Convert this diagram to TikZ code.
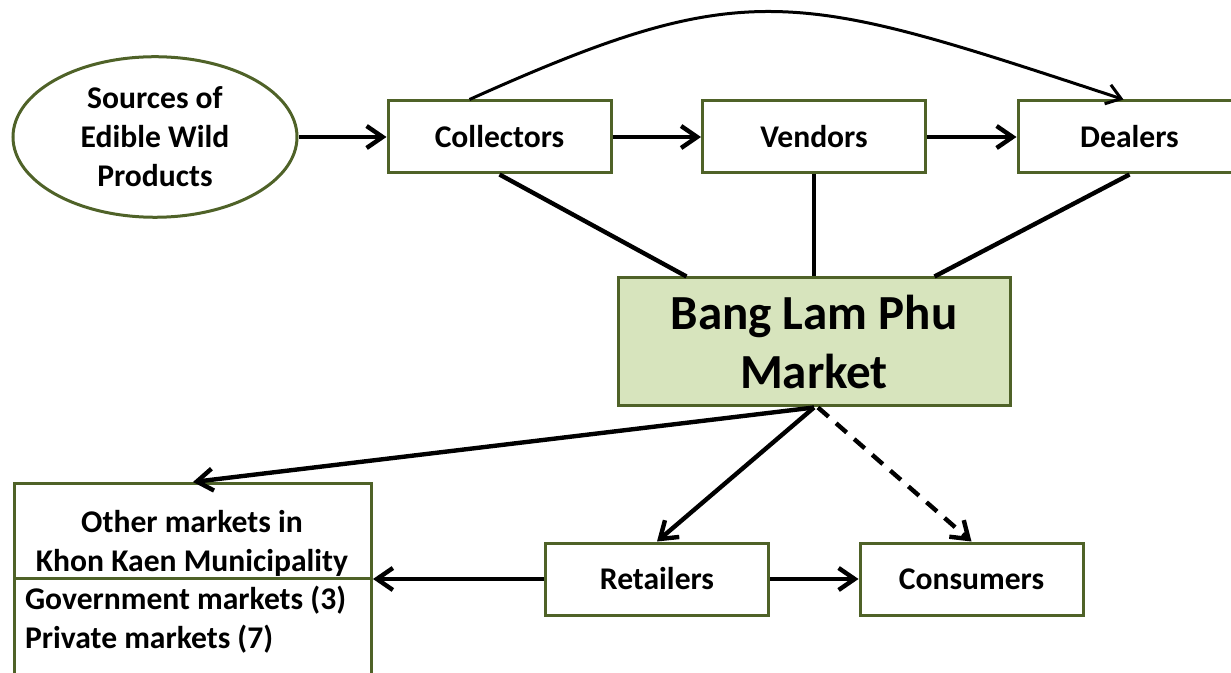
\documentclass[tikz,border=0pt]{standalone}
\usepackage{fontspec}
\setmainfont{Carlito}
\usepackage{xcolor}
\usetikzlibrary{arrows.meta,shapes.geometric}
\definecolor{olive}{HTML}{4F6228}
\definecolor{marketfill}{HTML}{D7E4BD}
\tikzset{
  box/.style={draw=olive, line width=1.5pt, minimum width=111.5pt, minimum height=36pt,
    font=\fontsize{15.8}{19.5}\selectfont\bfseries, align=center},
  arr/.style={line width=2.2pt, -{Straight Barb[length=8pt,width=11pt]}},
  link/.style={line width=2.2pt}
}

\begin{document}
\begin{tikzpicture}[x=0.5pt,y=-0.5pt]
\useasboundingbox (0,0) rectangle (1231,673);
\clip (0,0) rectangle (1231,673);
%top row
\node[box, ellipse, minimum width=142pt, minimum height=80pt] (src) at (155,137) {Sources of\\Edible Wild\\Products};
\node[box] (col) at (499.5,137) {Collectors};
\node[box] (ven) at (814,137) {Vendors};
\node[box] (dea) at (1129.5,137) {Dealers};
%market
\node[box, fill=marketfill, minimum width=196pt, minimum height=64pt,
  font=\fontsize{24.5}{29.5}\selectfont\bfseries] (blp) at (814,342) {Bang Lam Phu\\Market};
%bottom row
\node[box] (ret) at (657,579) {Retailers};
\node[box] (con) at (971.5,579) {Consumers};
\node[box, minimum width=178.5pt, minimum height=120pt, anchor=north west] (other) at (13,482) {};
\node[font=\fontsize{15.8}{19.5}\selectfont\bfseries, align=center] (othertitle) at (192,543) {Other markets in\\Khon Kaen Municipality};
\node[font=\fontsize{15.8}{19.5}\selectfont\bfseries, align=left, anchor=west] (otherlist) at (18,620) {Government markets (3)\\Private markets (7)};
\coordinate (sep) at (16,578);
\draw[draw=olive, line width=1.5pt] (sep) -- (sep -| other.east);

%arrows along the top
\draw[arr] (src) -- (col);
\draw[arr] (col) -- (ven);
\draw[arr] (ven) -- (dea);
\draw[line width=1.5pt, -{Straight Barb[length=7pt,width=10pt]}] ([xshift=-15pt]col.north)
  .. controls (749,-26) and (794,-9) .. ([xshift=-3pt]dea.north);

%lines into the market
\draw[link] (col.south) -- ([xshift=35pt]blp.north west);
\draw[link] (ven.south) -- (ven.south |- blp.north);
\draw[link] (dea.south) -- ([xshift=-38.5pt]blp.north east);

%out of the market
\draw[arr] (blp.south) -- (other.north);
\draw[arr] (blp.south) -- (ret.north);
\draw[arr, dash pattern=on 7pt off 5pt] ([xshift=2pt]blp.south) -- (con.north);
\draw[arr] (ret.west) -- (ret.west -| other.east);
\draw[arr] (ret) -- (con);
\end{tikzpicture}
\end{document}
